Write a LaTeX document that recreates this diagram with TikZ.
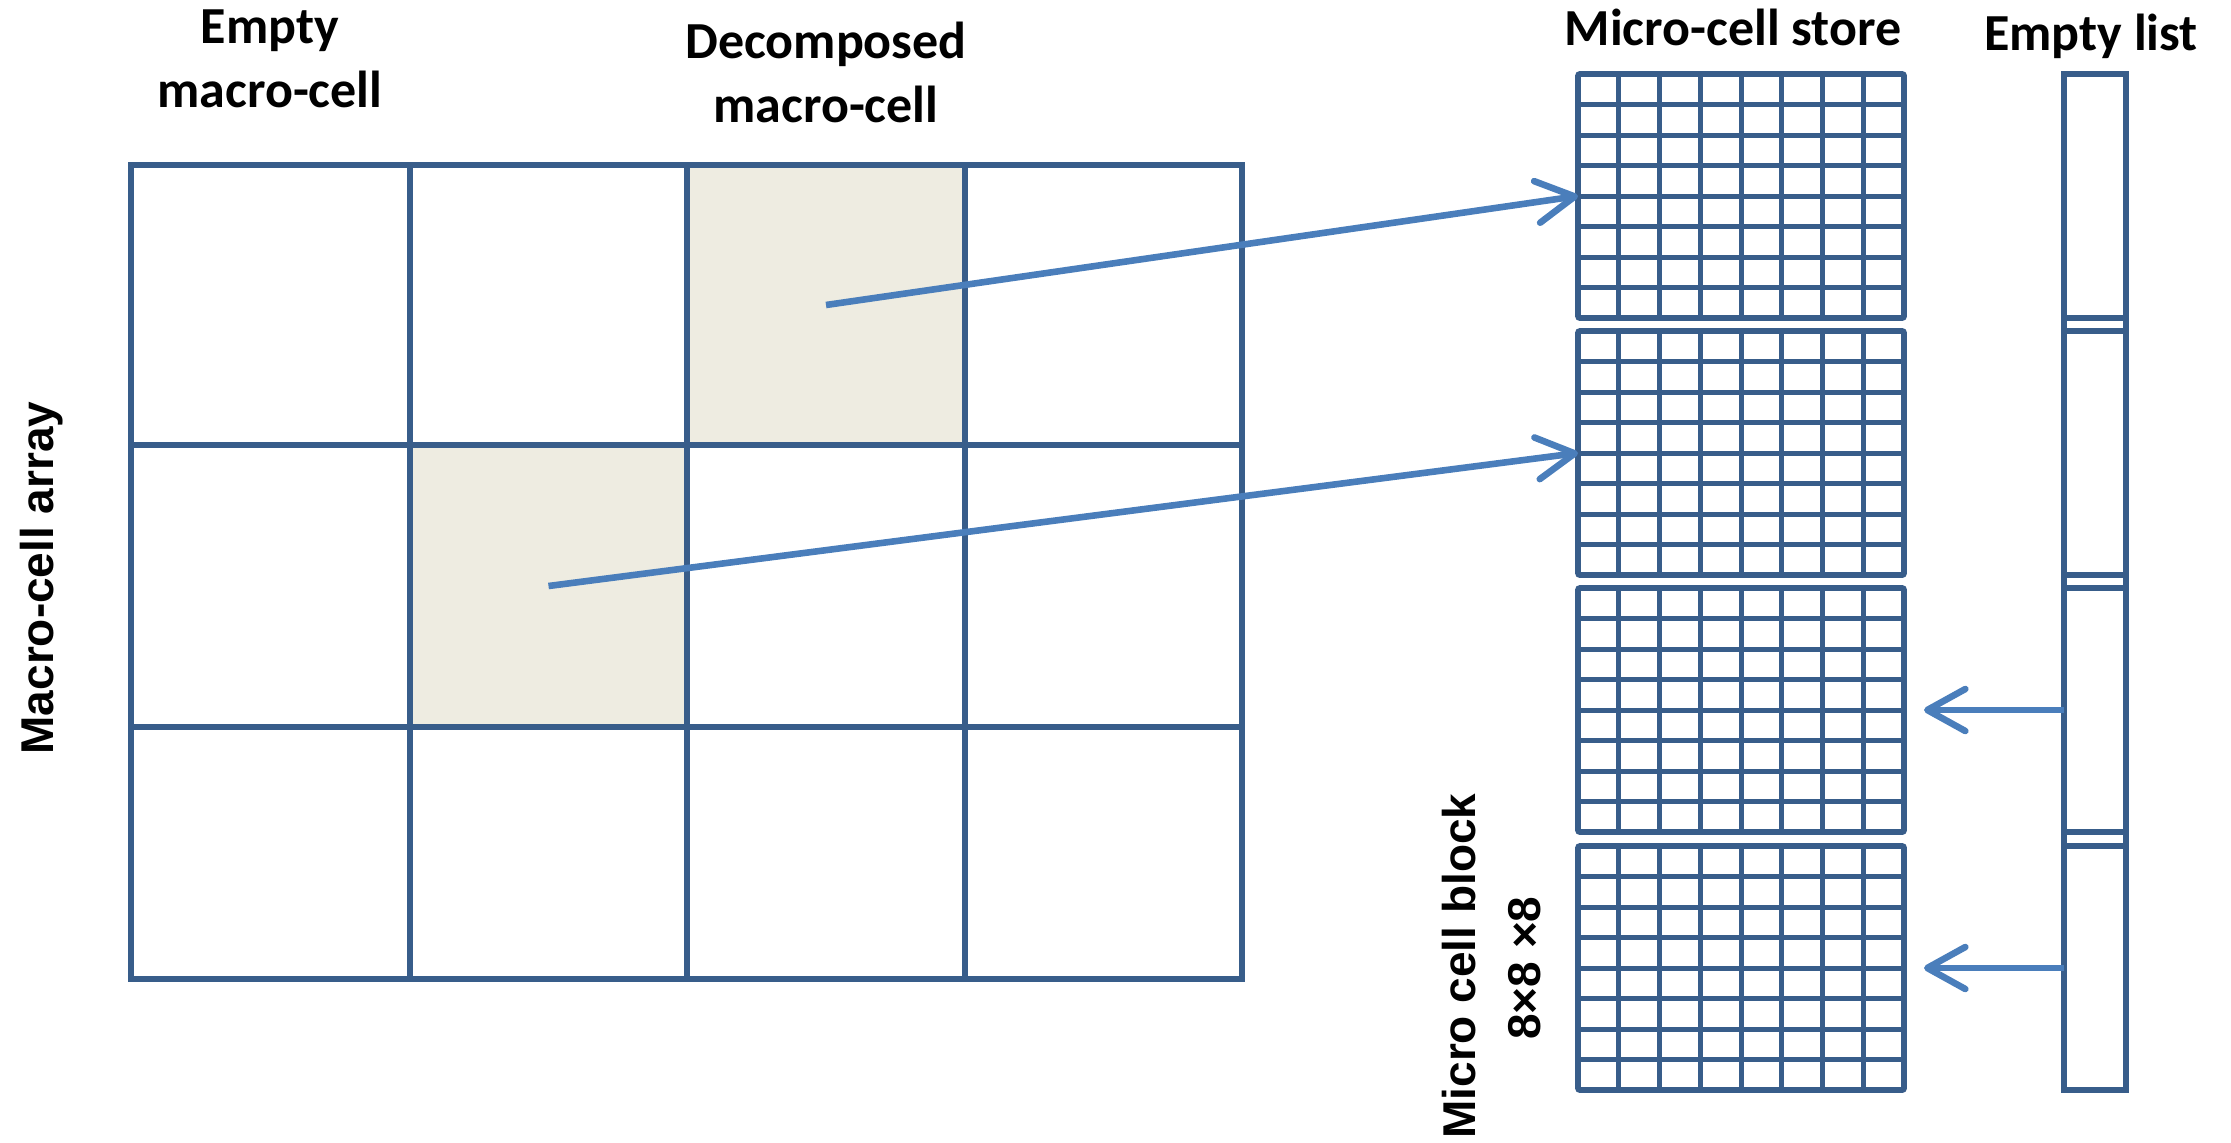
\documentclass[tikz,border=0pt]{standalone}
\usepackage{fontspec}
\setmainfont{Carlito}
\newfontfamily\lsans{Liberation Sans}
\usetikzlibrary{arrows.meta,calc}
\definecolor{gridblue}{HTML}{385D8A}
\definecolor{arrowblue}{HTML}{4A7EBB}
\definecolor{beige}{HTML}{EEECE1}
\begin{document}
\begin{tikzpicture}[x=0.5pt,y=-0.5pt,
  gridline/.style={draw=gridblue,line width=2.5pt},
  mcell/.style={rectangle,draw=gridblue,line width=3pt,inner sep=0pt,outer sep=0pt,anchor=north west},
  blockbox/.style={rectangle,draw=gridblue,line width=2.9pt,rounded corners=1pt,minimum width=163pt,minimum height=122pt,inner sep=0pt,outer sep=0pt,anchor=north west},
  listbox/.style={rectangle,draw=gridblue,line width=2.8pt,inner sep=0pt,outer sep=0pt,minimum width=31pt,minimum height=508pt,anchor=north west},
  arr/.style={draw=arrowblue,line width=3.3pt,-{Straight Barb[length=19pt,width=21pt,round]}},
  toplabel/.style={font=\fontsize{26}{32}\selectfont\bfseries,anchor=base,inner sep=0pt},
  sidelabel/.style={font=\lsans\fontsize{23}{28}\selectfont\bfseries,anchor=base,rotate=90,inner sep=0pt}]
\useasboundingbox (0,0) rectangle (2231,1142);
% macro-cell array
\node[mcell,minimum width=139.5pt,minimum height=140pt] (m00) at (131,165) {};
\node[mcell,minimum width=138.5pt,minimum height=140pt] (m01) at (410,165) {};
\node[mcell,fill=beige,minimum width=139pt,minimum height=140pt] (m02) at (687,165) {};
\node[mcell,minimum width=138.5pt,minimum height=140pt] (m03) at (965,165) {};
\node[mcell,minimum width=139.5pt,minimum height=141pt] (m10) at (131,445) {};
\node[mcell,fill=beige,minimum width=138.5pt,minimum height=141pt] (m11) at (410,445) {};
\node[mcell,minimum width=139pt,minimum height=141pt] (m12) at (687,445) {};
\node[mcell,minimum width=138.5pt,minimum height=141pt] (m13) at (965,445) {};
\node[mcell,minimum width=139.5pt,minimum height=126pt] (m20) at (131,727) {};
\node[mcell,minimum width=138.5pt,minimum height=126pt] (m21) at (410,727) {};
\node[mcell,minimum width=139pt,minimum height=126pt] (m22) at (687,727) {};
\node[mcell,minimum width=138.5pt,minimum height=126pt] (m23) at (965,727) {};
\draw[gridline,line width=3pt] (m00.north west) rectangle (m23.south east);
% micro-cell store
\foreach \i/\y in {1/74,2/331,3/588,4/846} {
  \node[blockbox] (blk\i) at (1578,\y) {};
  \foreach \k in {1,...,7} {
    \draw[gridline] ($(blk\i.north west)!\k/8!(blk\i.north east)$) -- ($(blk\i.south west)!\k/8!(blk\i.south east)$);
    \draw[gridline] ($(blk\i.north west)!\k/8!(blk\i.south west)$) -- ($(blk\i.north east)!\k/8!(blk\i.south east)$);
  }
}
% empty list
\node[listbox] (lst) at (2064,74) {};
\foreach \a/\b in {1/2,2/3,3/4} {
  \draw[gridline,line width=2.8pt] (lst.west |- blk\a.south) -- (lst.east |- blk\a.south);
  \draw[gridline,line width=2.8pt] (lst.west |- blk\b.north) -- (lst.east |- blk\b.north);
}
% arrows
\draw[arr] (m02.center) -- (blk1.west);
\draw[arr] (m11.center) -- (blk2.west);
\coordinate (t3) at ($(blk3.east)+(20,0)$);
\coordinate (t4) at ($(blk4.east)+(20,0)$);
\draw[arr] (lst.west |- blk3.east) -- (t3);
\draw[arr] (lst.west |- blk4.east) -- (t4);
% labels
\node[toplabel] (lblE1) at (270,43) {Empty};
\node[toplabel] (lblE2) at (270,107) {macro-cell};
\node[toplabel] (lblD1) at (826,58) {Decomposed};
\node[toplabel] (lblD2) at (826,122) {macro-cell};
\node[toplabel] (lblS) at (1733,45) {Micro-cell store};
\node[toplabel] (lblL) at (2091,50) {Empty list};
\node[sidelabel] (lblA) at (53,578) {Macro-cell array};
\node[sidelabel] (lblB) at (1475,966) {Micro cell block};
\node[sidelabel] (lblC) at (1540,968) {8×8 ×8};
\end{tikzpicture}
\end{document}
